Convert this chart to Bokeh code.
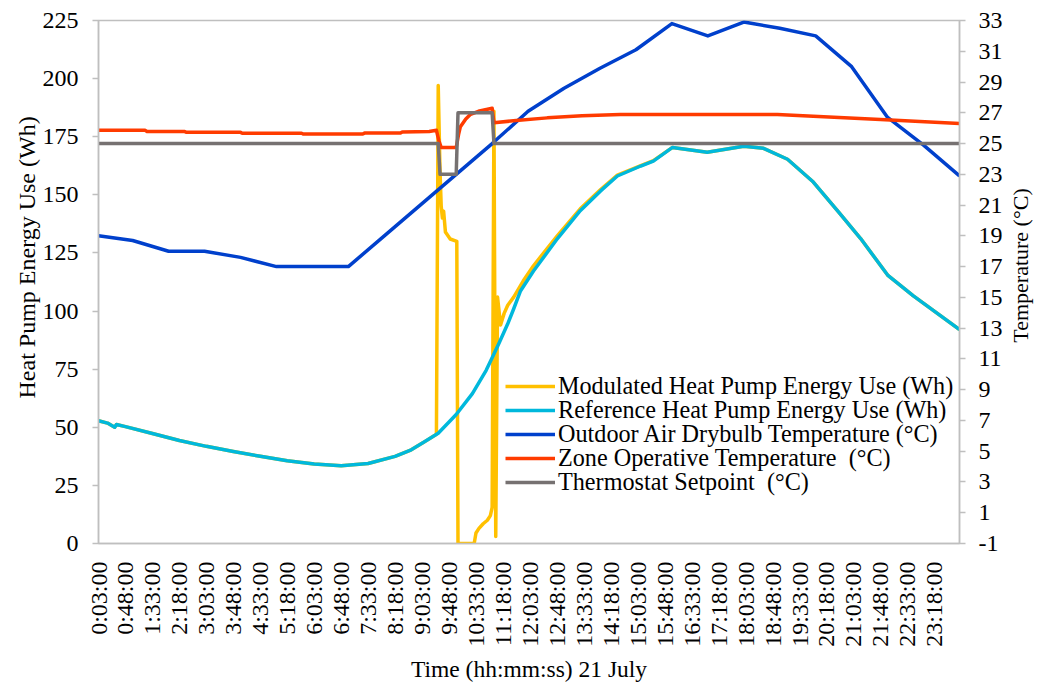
import math
from bokeh.plotting import figure
from bokeh.models import Range1d, LinearAxis, FixedTicker, Legend, LegendItem, Title, Label
from bokeh.embed import file_html
from bokeh.resources import INLINE

# ---------------- data (time in minutes after midnight, 21 July) ----------------
x_tick_labels = ["0:03:00", "0:48:00", "1:33:00", "2:18:00", "3:03:00", "3:48:00", "4:33:00",
                 "5:18:00", "6:03:00", "6:48:00", "7:33:00", "8:18:00", "9:03:00", "9:48:00",
                 "10:33:00", "11:18:00", "12:03:00", "12:48:00", "13:33:00", "14:18:00",
                 "15:03:00", "15:48:00", "16:33:00", "17:18:00", "18:03:00", "18:48:00",
                 "19:33:00", "20:18:00", "21:03:00", "21:48:00", "22:33:00", "23:18:00"]
wh_ticks = [0, 25, 50, 75, 100, 125, 150, 175, 200, 225]
temp_ticks = [-1, 1, 3, 5, 7, 9, 11, 13, 15, 17, 19, 21, 23, 25, 27, 29, 31, 33]

# Reference heat pump energy use (Wh)
ref_t = [3, 18, 30, 33, 48, 93, 138, 183, 228, 273, 318, 363, 408, 453, 498, 525, 545, 570,
         600, 627, 650, 662, 672, 686, 696, 707, 729, 769, 807, 841, 869, 908, 929, 961,
         1019, 1080, 1113, 1153, 1196, 1238, 1275, 1320, 1363, 1440]
ref_v = [52.8, 51.8, 50.0, 51.2, 50.3, 47.3, 44.3, 41.8, 39.6, 37.5, 35.6, 34.2, 33.5, 34.4,
         37.5, 40.3, 43.4, 47.4, 55.5, 64.5, 74.5, 81.0, 86.5, 94.5, 101.0, 108.5, 117.2,
         131.2, 143.2, 151.7, 158.1, 162.4, 164.5, 170.4, 168.3, 170.9, 170.0, 165.3, 155.5,
         142.7, 131.2, 115.5, 106.5, 92.0]

# Modulated heat pump energy use (Wh)
mod_t = [3, 18, 30, 33, 48, 93, 138, 183, 228, 273, 318, 363, 408, 453, 498, 525, 545, 567,
         570, 573, 575, 577, 579, 582, 590, 601, 603, 630, 633, 638, 645, 652, 657, 660,
         663, 666, 669, 674, 680, 686, 696, 712, 729, 769, 807, 841, 869, 908, 929, 961,
         1019, 1080, 1113, 1153, 1196, 1238, 1275, 1320, 1363, 1440]
mod_v = [52.8, 51.8, 50.0, 51.2, 50.3, 47.3, 44.3, 41.8, 39.6, 37.5, 35.6, 34.2, 33.5, 34.4,
         37.5, 40.3, 43.4, 47.0, 197.0, 160.0, 145.0, 140.0, 143.0, 134.0, 131.0, 130.0,
         0.0, 0.0, 4.5, 6.5, 8.5, 10.0, 12.0, 15.5, 186.0, 3.0, 106.0, 94.0, 99.0, 102.5,
         106.0, 113.0, 119.5, 132.5, 144.0, 152.3, 158.5, 162.6, 164.7, 170.4, 168.3, 170.9,
         170.0, 165.3, 155.5, 142.7, 131.2, 115.5, 106.5, 92.0]

# Outdoor air drybulb temperature (°C)
out_t = [3, 60, 120, 180, 240, 300, 360, 420, 480, 540, 600, 660, 720, 780, 840, 900, 960,
         1020, 1080, 1140, 1200, 1260, 1320, 1380, 1440]
out_v = [19.0, 18.7, 18.0, 18.0, 17.6, 17.0, 17.0, 17.0, 19.0, 21.0, 23.0, 25.0, 27.1, 28.6,
         29.9, 31.1, 32.8, 32.0, 32.9, 32.5, 32.0, 30.0, 26.7, 24.9, 22.9]

# Zone operative temperature (°C)
zone_t = [3, 81, 84, 147, 150, 240, 243, 342, 345, 444, 447, 507, 510, 555, 567, 571, 575,
          600, 604, 607, 616, 624, 637, 660, 663, 700, 752, 810, 874, 1136, 1196, 1308, 1440]
zone_v = [25.86, 25.86, 25.78, 25.78, 25.73, 25.73, 25.67, 25.67, 25.62, 25.62, 25.68, 25.68,
          25.75, 25.78, 25.86, 25.2, 24.74, 24.74, 25.6, 26.1, 26.6, 26.9, 27.1, 27.3, 26.35,
          26.5, 26.67, 26.8, 26.89, 26.89, 26.78, 26.56, 26.3]

# Thermostat setpoint (°C)
set_t = [3, 570, 573, 600, 603, 660, 663, 1440]
set_v = [25, 25, 23, 23, 27, 27, 25, 25]

labels = ["Modulated Heat Pump Energy Use (Wh)", "Reference Heat Pump Energy Use (Wh)",
          "Outdoor Air Drybulb Temperature (°C)", "Zone Operative Temperature  (°C)",
          "Thermostat Setpoint  (°C)"]
colors = ["#FFC000", "#00B8DC", "#0040CC", "#FF3B00", "#767171"]


def to_min(s):
    h, m, sec = s.split(":")
    return int(h) * 60 + int(m)


x_tick_pos = [to_min(s) for s in x_tick_labels]

FONT = "Liberation Serif"
AX = "#BFBFBF"

p = figure(width=1036, height=684, output_backend="svg", toolbar_location=None,
           x_range=Range1d(3, 1440), y_range=Range1d(0, 225),
           min_border_left=98, min_border_right=77, min_border_top=20, min_border_bottom=136)
p.title.text = ""
p.grid.visible = False
p.outline_line_color = AX
p.outline_line_width = 1.5
p.background_fill_color = "white"
p.border_fill_color = "white"
p.extra_y_ranges = {"temp": Range1d(-1, 33)}


def style_axis(ax, standoff):
    ax.axis_line_color = AX
    ax.axis_line_width = 1.5
    ax.major_tick_line_color = AX
    ax.major_tick_line_width = 1.5
    ax.major_tick_out = 6
    ax.major_tick_in = 0
    ax.minor_tick_line_color = None
    ax.major_label_text_font = FONT
    ax.major_label_text_font_size = "24px"
    ax.major_label_text_color = "black"
    ax.major_label_standoff = standoff
    ax.axis_label_text_font = FONT
    ax.axis_label_text_font_style = "normal"
    ax.axis_label_text_color = "black"


ya = p.yaxis[0]
ya.ticker = FixedTicker(ticks=wh_ticks)
style_axis(ya, 14)

ra = LinearAxis(y_range_name="temp", ticker=FixedTicker(ticks=temp_ticks))
style_axis(ra, 13)
ra.major_label_overrides = {t: str(t) for t in temp_ticks}
p.add_layout(ra, "right")

xa = p.xaxis[0]
xa.ticker = FixedTicker(ticks=x_tick_pos)
xa.major_label_overrides = {pos: lab for pos, lab in zip(x_tick_pos, x_tick_labels)}
xa.major_label_orientation = math.pi / 2
style_axis(xa, 18)
xa.major_tick_line_color = None
xa.major_tick_out = 0
xa.axis_label = "Time (hh:mm:ss) 21 July"
xa.axis_label_text_font_size = "23.5px"
xa.axis_label_standoff = 6

p.add_layout(Title(text="Heat Pump Energy Use (Wh)", align="left", offset=145,
                   text_font=FONT, text_font_size="24px", text_font_style="normal",
                   text_color="black", standoff=0), "left")

# right-hand axis title, reading bottom to top, kept in a side panel so it is not clipped
p.add_layout(Label(x=15, y=278, x_units="screen", y_units="screen", text="Temperature (°C)",
                   angle=math.pi / 2, text_align="center", text_baseline="alphabetic",
                   text_font=FONT, text_font_size="22px", text_color="black"), "right")

LW = 3.5
r1 = p.line(mod_t, mod_v, color=colors[0], line_width=LW, line_join="round")
r2 = p.line(ref_t, ref_v, color=colors[1], line_width=LW, line_join="round")
r3 = p.line(out_t, out_v, color=colors[2], line_width=LW, line_join="round", y_range_name="temp")
r4 = p.line(zone_t, zone_v, color=colors[3], line_width=LW, line_join="round", y_range_name="temp")
r5 = p.line(set_t, set_v, color=colors[4], line_width=LW, line_join="round", y_range_name="temp")

# one single-entry legend per row so that rows are exactly 24 px apart
legend_y = [143, 119, 95, 71, 47]
for lab, r, ly in zip(labels, [r1, r2, r3, r4, r5], legend_y):
    lg = Legend(items=[LegendItem(label=lab, renderers=[r])],
                location=(407, ly), padding=0, margin=0, spacing=0, label_standoff=3,
                glyph_width=50, glyph_height=24, label_height=24,
                label_text_font=FONT, label_text_font_size="24.2px", label_text_color="black",
                border_line_color=None, background_fill_alpha=0)
    p.add_layout(lg)

open("out.html", "w").write(file_html(p, INLINE))
